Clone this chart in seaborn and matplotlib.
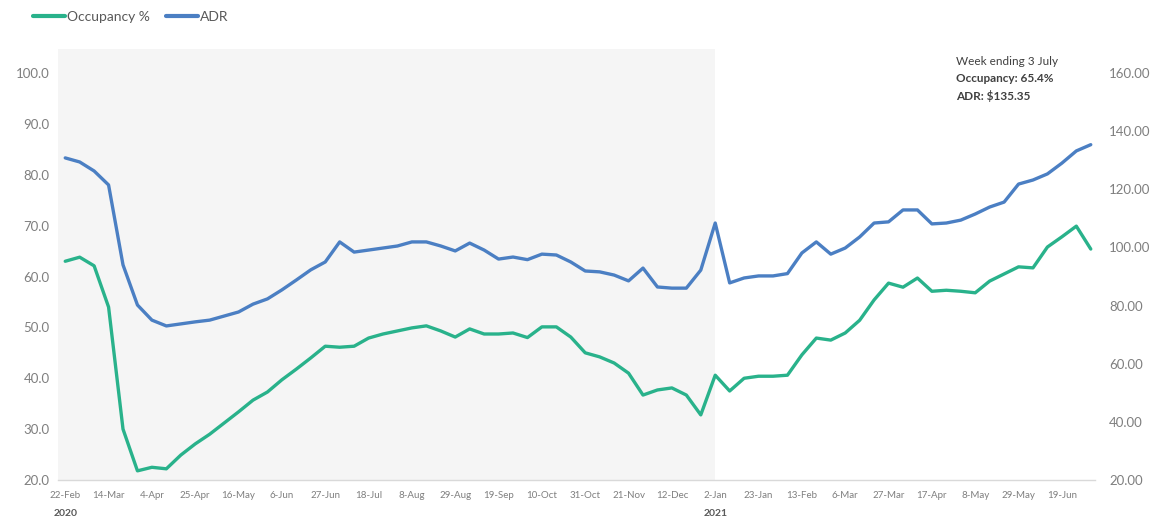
import numpy as np
import pandas as pd
import matplotlib
matplotlib.use("Agg")
import matplotlib.pyplot as plt
import seaborn as sns

sns.set_theme(style="white")
plt.rcParams['font.family'] = ['Lato', 'DejaVu Sans']

# Weekly data, week ending 22 Feb 2020 .. 3 Jul 2021
weeks = pd.date_range('2020-02-22', '2021-07-03', freq='7D')

occupancy = [
    63.0, 63.8, 62.1, 54.0, 30.0, 21.8, 22.5, 22.2, 24.9, 27.1,
    29.0, 31.2, 33.4, 35.7, 37.3, 39.7, 41.8, 44.0, 46.3, 46.1,
    46.3, 47.9, 48.7, 49.3, 49.9, 50.3, 49.3, 48.1, 49.7, 48.7,
    48.7, 48.9, 48.0, 50.1, 50.1, 48.1, 45.0, 44.2, 43.0, 41.0,
    36.7, 37.7, 38.1, 36.7, 32.8, 40.6, 37.5, 40.0, 40.4, 40.4,
    40.6, 44.6, 47.9, 47.5, 48.9, 51.4, 55.4, 58.7, 57.9, 59.7,
    57.1, 57.3, 57.1, 56.8, 59.1, 60.5, 61.9, 61.7, 65.8, 67.8,
    69.9, 65.4,
]

adr = [
    130.8, 129.4, 126.3, 121.5, 94.0, 80.2, 75.0, 73.0, 73.7, 74.4,
    75.0, 76.4, 77.8, 80.5, 82.3, 85.4, 88.8, 92.3, 95.0, 101.9,
    98.4, 99.1, 99.8, 100.5, 101.9, 101.9, 100.5, 98.8, 101.5, 99.1,
    96.0, 96.7, 95.8, 97.7, 97.4, 95.0, 91.9, 91.6, 90.5, 88.5,
    92.9, 86.4, 86.0, 86.0, 92.2, 108.4, 87.8, 89.5, 90.2, 90.2,
    91.0, 98.1, 101.9, 97.7, 99.8, 103.6, 108.4, 108.8, 112.9, 112.9,
    108.1, 108.4, 109.4, 111.5, 113.9, 115.6, 121.8, 123.2, 125.3, 129.0,
    133.2, 135.35,
]

tick_labels = ['22-Feb', '14-Mar', '4-Apr', '25-Apr', '16-May', '6-Jun', '27-Jun',
               '18-Jul', '8-Aug', '29-Aug', '19-Sep', '10-Oct', '31-Oct', '21-Nov',
               '12-Dec', '2-Jan', '23-Jan', '13-Feb', '6-Mar', '27-Mar', '17-Apr',
               '8-May', '29-May', '19-Jun']
year_labels = {'2020': 0, '2021': 45}
shade_end = 45  # week of 2 Jan 2021

df = pd.DataFrame({'week': np.arange(len(weeks)), 'date': weeks,
                   'Occupancy %': occupancy, 'ADR': adr})

GREEN = '#29b28b'
BLUE = '#4b7fc3'
GREY = '#7f7f7f'

fig = plt.figure(figsize=(11.65, 5.23), dpi=100)
ax = fig.add_axes([0.0498, 0.0822, 0.8902, 0.8241])
ax2 = ax.twinx()

ax.axvspan(-0.5, shade_end, color='#f5f5f5', lw=0, zorder=0)

sns.lineplot(data=df, x='week', y='Occupancy %', ax=ax, color=GREEN, lw=2.4,
             solid_joinstyle='round', solid_capstyle='round', zorder=3)
sns.lineplot(data=df, x='week', y='ADR', ax=ax2, color=BLUE, lw=2.4,
             solid_joinstyle='round', solid_capstyle='round', zorder=3)

ax.set_xlim(-0.5, 71.3)
ax.set_ylim(20, 104.72)
ax2.set_ylim(20, 168.26)
ax.set_yticks(np.arange(20, 101, 10))
ax.set_yticklabels([f'{v:.1f}' for v in np.arange(20, 101, 10)])
ax2.set_yticks(np.arange(20, 161, 20))
ax2.set_yticklabels([f'{v:.2f}' for v in np.arange(20, 161, 20)])
ax.set_xticks(df['week'][::3])
ax.set_xticklabels(tick_labels)

for a in (ax, ax2):
    a.set_xlabel('')
    a.set_ylabel('')
    for s in a.spines.values():
        s.set_visible(False)
    a.grid(False)
ax.spines['bottom'].set_visible(True)
ax.spines['bottom'].set_color('#d9d9d9')
ax.spines['bottom'].set_linewidth(1)
ax.set_facecolor('white')

ax.tick_params(axis='x', length=0, labelsize=7, labelcolor=GREY, pad=8)
ax.tick_params(axis='y', length=0, labelsize=9.5, labelcolor=GREY, pad=6)
ax2.tick_params(axis='y', length=0, labelsize=9.5, labelcolor=GREY, pad=10)

for yr, wk in year_labels.items():
    ax.text(wk, -0.078, yr, transform=ax.get_xaxis_transform(), ha='center',
            va='center', fontsize=7.5, fontweight='bold', color='#595959')

fig.text(0.821, 0.882, 'Week ending 3 July', fontsize=8.5, color='#404040', va='center')
fig.text(0.821, 0.849, 'Occupancy: 65.4%', fontsize=8.5, color='#404040',
         fontweight='bold', va='center')
fig.text(0.821, 0.817, 'ADR: $135.35', fontsize=8.5, color='#404040',
         fontweight='bold', va='center')

handles = [plt.Line2D([], [], color=GREEN, lw=3), plt.Line2D([], [], color=BLUE, lw=3)]
leg = fig.legend(handles, ['Occupancy %', 'ADR'], loc='center left',
                 bbox_to_anchor=(0.018, 0.968), ncol=2, frameon=False,
                 fontsize=10, handlelength=2.3, handletextpad=0.1, columnspacing=1.2)
for t in leg.get_texts():
    t.set_color('#595959')

fig.savefig('out.png', dpi=100, facecolor='white')
